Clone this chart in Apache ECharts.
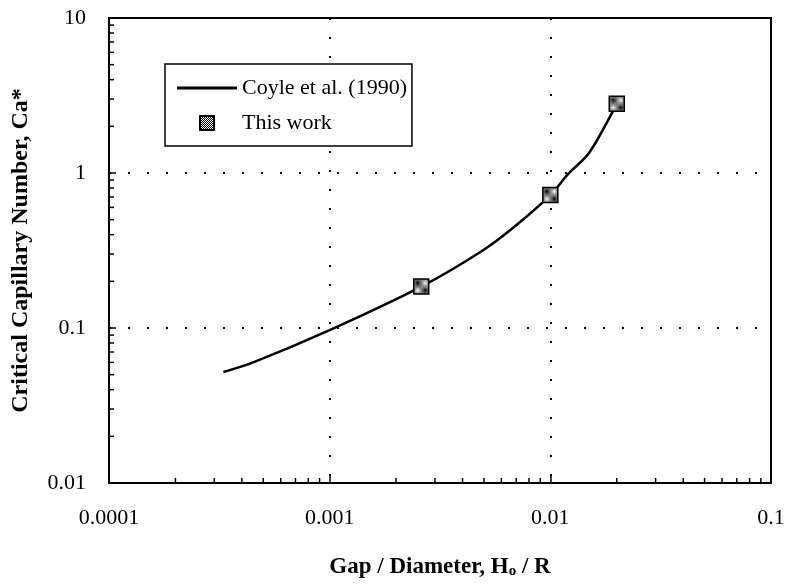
<!DOCTYPE html>
<html>
<head>
<meta charset="utf-8">
<script src="https://cdn.jsdelivr.net/npm/echarts@6/dist/echarts.min.js"></script>
<style>html,body{margin:0;padding:0;background:#fff}#c{width:790px;height:584px}</style>
</head>
<body>
<div id="c"></div>
<script>
// Coyle et al. (1990) curve
var coyleX = [0.00033, 0.00045, 0.001, 0.0026, 0.005, 0.007, 0.01, 0.012, 0.015, 0.02];
var coyleY = [0.052, 0.060, 0.097, 0.185, 0.32, 0.46, 0.72, 0.98, 1.35, 2.8];
// This work
var workX = [0.0026, 0.01, 0.02];
var workY = [0.185, 0.72, 2.8];
// tick labels
var xTickLabels = ['0.0001', '0.001', '0.01', '0.1'];
var yTickLabels = ['0.01', '0.1', '1', '10'];
// minor tick positions
var xMinorTicks = [0.0002,0.0003,0.0004,0.0005,0.0006,0.0007,0.0008,0.0009,
                   0.002,0.003,0.004,0.005,0.006,0.007,0.008,0.009,
                   0.02,0.03,0.04,0.05,0.06,0.07,0.08,0.09];
var yMinorTicks = [0.02,0.03,0.04,0.05,0.06,0.07,0.08,0.09,
                   0.2,0.3,0.4,0.5,0.6,0.7,0.8,0.9,
                   2,3,4,5,6,7,8,9];

var FONT = 'Liberation Serif';
var chart = echarts.init(document.getElementById('c'));

// checkered marker fill
var pc = document.createElement('canvas');
pc.width = 2; pc.height = 2;
var pctx = pc.getContext('2d');
pctx.fillStyle = '#ffffff'; pctx.fillRect(0,0,2,2);
pctx.fillStyle = '#000000'; pctx.fillRect(0,0,1,1); pctx.fillRect(1,1,1,1);
var patternFill = {image: pc, repeat: 'repeat'};

function labelFor(list, minExp) {
  return function (v) {
    var i = Math.round(Math.log10(v)) - minExp;
    return list[i] !== undefined ? list[i] : '';
  };
}

var minorData = [];
xMinorTicks.forEach(function (v) { minorData.push([v, 0.01, 0]); });
yMinorTicks.forEach(function (v) { minorData.push([0.0001, v, 1]); });

chart.setOption({
  animation: false,
  grid: {left: 109, right: 19, top: 18, bottom: 100, show: true, borderColor: '#000', borderWidth: 2, containLabel: false},
  legend: {
    orient: 'vertical', left: 165, top: 64,
    backgroundColor: '#fff', borderColor: '#000', borderWidth: 1.5,
    padding: [13, 5, 12, 12], itemGap: 13,
    itemWidth: 60, itemHeight: 14, symbolKeepAspect: true,
    textStyle: {fontFamily: FONT, fontSize: 22, color: '#000'},
    data: [
      {name: 'Coyle et al. (1990)', icon: 'path://M0,0L60,0L60,3L0,3Z'},
      {name: 'This work', icon: 'path://M0,0L10,0L10,10L0,10Z'}
    ]
  },
  xAxis: {
    type: 'log', logBase: 10, min: 0.0001, max: 0.1,
    name: 'Gap / Diameter, H{s|o} / R', nameLocation: 'middle', nameGap: 72,
    nameTextStyle: {fontFamily: FONT, fontSize: 23, fontWeight: 'bold', color: '#000',
      rich: {s: {fontFamily: FONT, fontSize: 15, fontWeight: 'bold', color: '#000', verticalAlign: 'bottom', padding: [9,0,0,0]}}},
    axisLine: {lineStyle: {color: '#000', width: 2}},
    axisTick: {inside: true, length: 7, lineStyle: {color: '#000', width: 1.5}},
    axisLabel: {fontFamily: FONT, fontSize: 22, color: '#000', margin: 24, formatter: labelFor(xTickLabels, -4)},
    splitLine: {show: true, lineStyle: {color: '#000', width: 2, type: [2, 17]}}
  },
  yAxis: {
    type: 'log', logBase: 10, min: 0.01, max: 10,
    name: 'Critical Capillary Number, Ca*', nameLocation: 'middle', nameGap: 76, nameRotate: 90,
    nameTextStyle: {fontFamily: FONT, fontSize: 24, fontWeight: 'bold', color: '#000'},
    axisLine: {lineStyle: {color: '#000', width: 2}},
    axisTick: {inside: true, length: 7, lineStyle: {color: '#000', width: 1.5}},
    axisLabel: {fontFamily: FONT, fontSize: 22, color: '#000', margin: 23, formatter: labelFor(yTickLabels, -2)},
    splitLine: {show: true, lineStyle: {color: '#000', width: 2, type: [2, 17]}}
  },
  series: [
    {
      name: 'Coyle et al. (1990)', type: 'line', smooth: 0.3, symbol: 'none',
      lineStyle: {color: '#000', width: 2.5}, itemStyle: {color: '#000'},
      data: coyleX.map(function (x, i) { return [x, coyleY[i]]; }), z: 3
    },
    {
      name: 'This work', type: 'scatter', symbol: 'rect', symbolSize: 15,
      itemStyle: {color: patternFill, borderColor: '#000', borderWidth: 1.5, opacity: 1},
      data: workX.map(function (x, i) { return [x, workY[i]]; }), z: 4
    },
    {
      type: 'custom', silent: true, clip: false, z: 5,
      data: minorData,
      renderItem: function (params, api) {
        var p = api.coord([api.value(0), api.value(1)]);
        var isY = api.value(2) === 1;
        var shape = isY ? {x1: p[0], y1: p[1], x2: p[0] + 5, y2: p[1]}
                        : {x1: p[0], y1: p[1], x2: p[0], y2: p[1] - 5};
        return {type: 'line', shape: shape, style: {stroke: '#000', lineWidth: 1.5}};
      }
    }
  ]
});
</script>
</body>
</html>
